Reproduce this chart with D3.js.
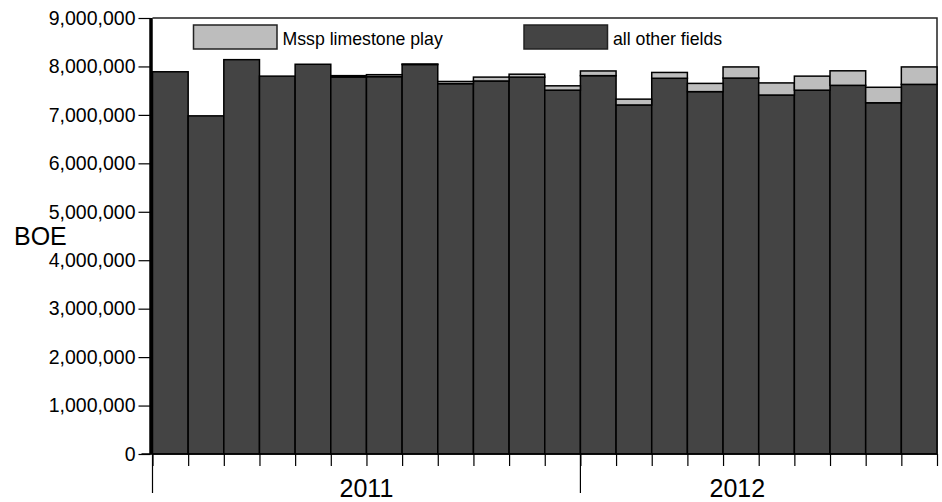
<!DOCTYPE html>
<html>
<head>
<meta charset="utf-8">
<script src="https://cdn.jsdelivr.net/npm/d3@7"></script>
<style>
  body { margin: 0; background: #fff; }
  svg { display: block; font-family: "Liberation Sans", Arial, sans-serif; }
</style>
</head>
<body>
<div id="graph"></div>
<script>
// monthly production, Jan 2011 - Oct 2012 (BOE)
var months = ['2011-01','2011-02','2011-03','2011-04','2011-05','2011-06',
              '2011-07','2011-08','2011-09','2011-10','2011-11','2011-12',
              '2012-01','2012-02','2012-03','2012-04','2012-05','2012-06',
              '2012-07','2012-08','2012-09','2012-10'];

var otherFields = [7890000, 6980000, 8140000, 7800000, 8045000, 7780000,
                   7790000, 8040000, 7645000, 7700000, 7780000, 7510000,
                   7810000, 7205000, 7756000, 7480000, 7760000, 7410000,
                   7510000, 7610000, 7250000, 7630000];

var mssp = [0, 0, 0, 0, 0, 30000,
            40000, 10000, 45000, 80000, 60000, 90000,
            97000, 120000, 120000, 170000, 230000, 250000,
            290000, 300000, 320000, 360000];

var yTicks = [0, 1000000, 2000000, 3000000, 4000000, 5000000,
              6000000, 7000000, 8000000, 9000000];

var years = ['2011', '2012'];
var yearStart = [0, 12];        // month index where each year begins
var yearLabelAt = [6, 16.4];    // month offset where year label sits

var keys = ['other', 'mssp'];
var legendNames = {mssp: 'Mssp limestone play', other: 'all other fields'};
var colors = {other: '#444444', mssp: '#bdbdbd'};

var w = 942,
    h = 502;

var plotL = 152.5, plotR = 937, plotT = 18, plotB = 454;

var rows = months.map(function(m, i) {
  return {month: m, other: otherFields[i], mssp: mssp[i]};
});

var vis = d3.select('#graph')
            .append('svg')
            .attr('width', w)
            .attr('height', h);

var x = d3.scaleLinear()
          .domain([0, months.length])
          .range([plotL, plotR]);

var y = d3.scaleLinear()
          .domain([0, 9000000])
          .range([plotB, plotT]);

var stacked = d3.stack().keys(keys)(rows);

// plot frame (top and right)
vis.append('path')
    .attr('d', 'M' + plotL + ',' + y(9000000) + 'H' + plotR + 'V' + plotB)
    .attr('fill', 'none')
    .attr('stroke', '#222')
    .attr('stroke-width', 1.5);

// bars
stacked.forEach(function(layer) {
  vis.append('g')
      .selectAll('rect')
      .data(layer.filter(function(d) { return d[1] - d[0] > 0; }))
      .enter()
      .append('rect')
      .attr('x', function(d) { return x(rows.indexOf(d.data)); })
      .attr('width', function(d) { var i = rows.indexOf(d.data); return x(i + 1) - x(i); })
      .attr('y', function(d) { return y(d[1]); })
      .attr('height', function(d) { return y(d[0]) - y(d[1]); })
      .attr('fill', colors[layer.key])
      .attr('stroke', '#000')
      .attr('stroke-width', 1.5);
});

// y axis
var yAxis = vis.append('g')
    .attr('transform', 'translate(' + (plotL - 2) + ',0)')
    .call(d3.axisLeft(y)
            .tickValues(yTicks)
            .tickFormat(d3.format(','))
            .tickSize(12)
            .tickPadding(3));
yAxis.select('.domain').remove();
yAxis.selectAll('.tick line').attr('stroke', '#000').attr('stroke-width', 1.2);
yAxis.selectAll('.tick text')
    .attr('font-size', '19.5px')
    .attr('font-family', '"Liberation Sans", Arial, sans-serif')
    .attr('fill', '#000');

vis.append('line')
    .attr('x1', plotL - 1.5).attr('x2', plotL - 1.5)
    .attr('y1', y(9000000)).attr('y2', plotB)
    .attr('stroke', '#000')
    .attr('stroke-width', 3.5);

// x axis: month boundaries
var xAxis = vis.append('g')
    .attr('transform', 'translate(0,' + plotB + ')')
    .call(d3.axisBottom(x)
            .tickValues(d3.range(months.length + 1))
            .tickSize(12)
            .tickFormat(''));
xAxis.select('.domain').remove();
xAxis.selectAll('.tick line').attr('stroke', '#000').attr('stroke-width', 1.2);

vis.append('line')
    .attr('x1', plotL - 11).attr('x2', plotR)
    .attr('y1', plotB).attr('y2', plotB)
    .attr('stroke', '#000')
    .attr('stroke-width', 1.5);

vis.selectAll('.yearTick')
    .data(yearStart)
    .enter()
    .append('line')
    .attr('class', 'yearTick')
    .attr('x1', function(d) { return x(d); })
    .attr('x2', function(d) { return x(d); })
    .attr('y1', plotB)
    .attr('y2', plotB + 39)
    .attr('stroke', '#000')
    .attr('stroke-width', 1.2);

vis.selectAll('.yearLabel')
    .data(years)
    .enter()
    .append('text')
    .attr('class', 'yearLabel')
    .attr('x', function(d, i) { return x(yearLabelAt[i]); })
    .attr('y', 497)
    .attr('text-anchor', 'middle')
    .attr('font-size', '25px')
    .text(function(d) { return d; });

// y title
vis.append('text')
    .attr('x', 14)
    .attr('y', 245)
    .attr('font-size', '25px')
    .text('BOE');

// legend
var legend = vis.selectAll('.legend')
    .data(['mssp', 'other'])
    .enter()
    .append('g')
    .attr('class', 'legend')
    .attr('transform', function(d, i) { return 'translate(' + (i === 0 ? 193.5 : 524) + ',25)'; });

legend.append('rect')
    .attr('width', 83.5)
    .attr('height', 24)
    .attr('fill', function(d) { return colors[d]; })
    .attr('stroke', '#222')
    .attr('stroke-width', 1.5);

legend.append('text')
    .attr('x', 89)
    .attr('y', 19.5)
    .attr('font-size', '17.7px')
    .text(function(d) { return legendNames[d]; });
</script>
</body>
</html>
